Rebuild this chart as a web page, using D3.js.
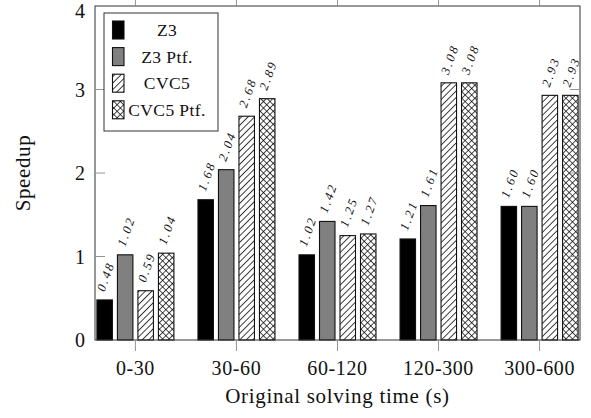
<!DOCTYPE html>
<html>
<head>
<meta charset="utf-8">
<script src="https://cdn.jsdelivr.net/npm/d3@7"></script>
<style>
  html, body { margin: 0; padding: 0; background: #fff; }
  svg { display: block; }
  text { font-family: "Liberation Serif", "Times New Roman", serif; fill: #111; }
</style>
</head>
<body>
<svg id="chart" width="591" height="418"></svg>
<script>
const categories = ["0-30", "30-60", "60-120", "120-300", "300-600"];
const seriesNames = ["Z3", "Z3 Ptf.", "CVC5", "CVC5 Ptf."];
const z3 = [0.48, 1.68, 1.02, 1.21, 1.60];
const z3Ptf = [1.02, 2.04, 1.42, 1.61, 1.60];
const cvc5 = [0.59, 2.68, 1.25, 3.08, 2.93];
const cvc5Ptf = [1.04, 2.89, 1.27, 3.08, 2.93];
const yTicks = [0, 1, 2, 3, 4];
const xLabel = "Original solving time (s)";
const yLabel = "Speedup";

const seriesValues = [z3, z3Ptf, cvc5, cvc5Ptf];
const fills = ["#000", "#808080", "url(#hatch)", "url(#cross)"];

const svg = d3.select("#chart");
const L = 95, R = 580, T = 6, B = 340;

const defs = svg.append("defs");
const hp = defs.append("pattern").attr("id", "hatch")
  .attr("patternUnits", "userSpaceOnUse").attr("width", 4.6).attr("height", 4.6)
  .attr("patternTransform", "rotate(45)");
hp.append("rect").attr("width", 4.6).attr("height", 4.6).attr("fill", "#fff");
hp.append("line").attr("x1", 0).attr("y1", 0).attr("x2", 0).attr("y2", 4.6)
  .attr("stroke", "#000").attr("stroke-width", 1.5);
const cp = defs.append("pattern").attr("id", "cross")
  .attr("patternUnits", "userSpaceOnUse").attr("width", 4.6).attr("height", 4.6)
  .attr("patternTransform", "rotate(45)");
cp.append("rect").attr("width", 4.6).attr("height", 4.6).attr("fill", "#fff");
cp.append("line").attr("x1", 0).attr("y1", 0).attr("x2", 0).attr("y2", 4.6)
  .attr("stroke", "#000").attr("stroke-width", 1.4);
cp.append("line").attr("x1", 0).attr("y1", 0).attr("x2", 4.6).attr("y2", 0)
  .attr("stroke", "#000").attr("stroke-width", 1.4);

const x = d3.scalePoint().domain(categories).range([L, R]).padding(0.4);
const xs = d3.scaleBand().domain(seriesNames).range([-38.5, 38.5]).paddingInner(0.244);
const y = d3.scaleLinear().domain([0, 4]).range([B, T]);

// bars
const data = [];
categories.forEach((c, i) => {
  seriesNames.forEach((s, j) => data.push({ c, s, j, v: seriesValues[j][i] }));
});

svg.append("g").selectAll("rect").data(data).join("rect")
  .attr("x", d => x(d.c) + xs(d.s))
  .attr("y", d => y(d.v))
  .attr("width", xs.bandwidth())
  .attr("height", d => y(0) - y(d.v))
  .attr("fill", d => fills[d.j])
  .attr("stroke", "#111")
  .attr("stroke-width", 1.1);

// value labels
svg.append("g").selectAll("text").data(data).join("text")
  .attr("transform", d => `translate(${x(d.c) + xs(d.s) + xs.bandwidth() / 2 - 4},${y(d.v) - 9}) rotate(-70)`)
  .attr("dominant-baseline", "central")
  .attr("font-size", 12.5)
  .attr("font-style", "italic")
  .attr("letter-spacing", 2.2)
  .text(d => d.v.toFixed(2));

// frame
svg.append("rect").attr("x", L).attr("y", T).attr("width", R - L).attr("height", B - T)
  .attr("fill", "none").attr("stroke", "#333").attr("stroke-width", 1);

// y ticks (inward, both sides)
const yt = svg.append("g");
yTicks.slice(1, -1).forEach(t => {
  yt.append("line").attr("x1", L).attr("x2", L + 10).attr("y1", y(t)).attr("y2", y(t))
    .attr("stroke", "#888").attr("stroke-width", 0.9);
  yt.append("line").attr("x1", R - 10).attr("x2", R).attr("y1", y(t)).attr("y2", y(t))
    .attr("stroke", "#888").attr("stroke-width", 0.9);
});
yTicks.forEach(t => {
  yt.append("text").attr("x", 85).attr("y", Math.max(y(t), 11)).attr("dy", "0.35em")
    .attr("text-anchor", "end").attr("font-size", 20).text(t);
});

// x ticks (outward, top and bottom)
const xt = svg.append("g");
categories.forEach(c => {
  xt.append("line").attr("x1", x(c)).attr("x2", x(c)).attr("y1", B).attr("y2", B + 11)
    .attr("stroke", "#888").attr("stroke-width", 0.9);
  xt.append("line").attr("x1", x(c)).attr("x2", x(c)).attr("y1", T - 11).attr("y2", T)
    .attr("stroke", "#888").attr("stroke-width", 0.9);
  xt.append("text").attr("x", x(c)).attr("y", 375).attr("text-anchor", "middle")
    .attr("font-size", 20).attr("letter-spacing", 0.6).text(c);
});

// axis labels
svg.append("text").attr("x", (L + R) / 2).attr("y", 403).attr("text-anchor", "middle")
  .attr("font-size", 21).attr("letter-spacing", 0.7).text(xLabel);
svg.append("text").attr("transform", `translate(30,173) rotate(-90)`).attr("text-anchor", "middle")
  .attr("font-size", 21).attr("letter-spacing", 0.6).text(yLabel);

// legend
const lg = svg.append("g");
lg.append("rect").attr("x", 104).attr("y", 13).attr("width", 114).attr("height", 118)
  .attr("fill", "#fff").attr("stroke", "#333").attr("stroke-width", 1);
seriesNames.forEach((s, j) => {
  const cy = 30 + j * 26.6;
  lg.append("rect").attr("x", 112.5).attr("y", cy - 9).attr("width", 11.5).attr("height", 18)
    .attr("fill", fills[j]).attr("stroke", "#111").attr("stroke-width", 1.1);
  lg.append("text").attr("x", 167).attr("y", cy).attr("dy", "0.35em")
    .attr("text-anchor", "middle").attr("font-size", 17.5).attr("letter-spacing", 0.4).text(s);
});
</script>
</body>
</html>
